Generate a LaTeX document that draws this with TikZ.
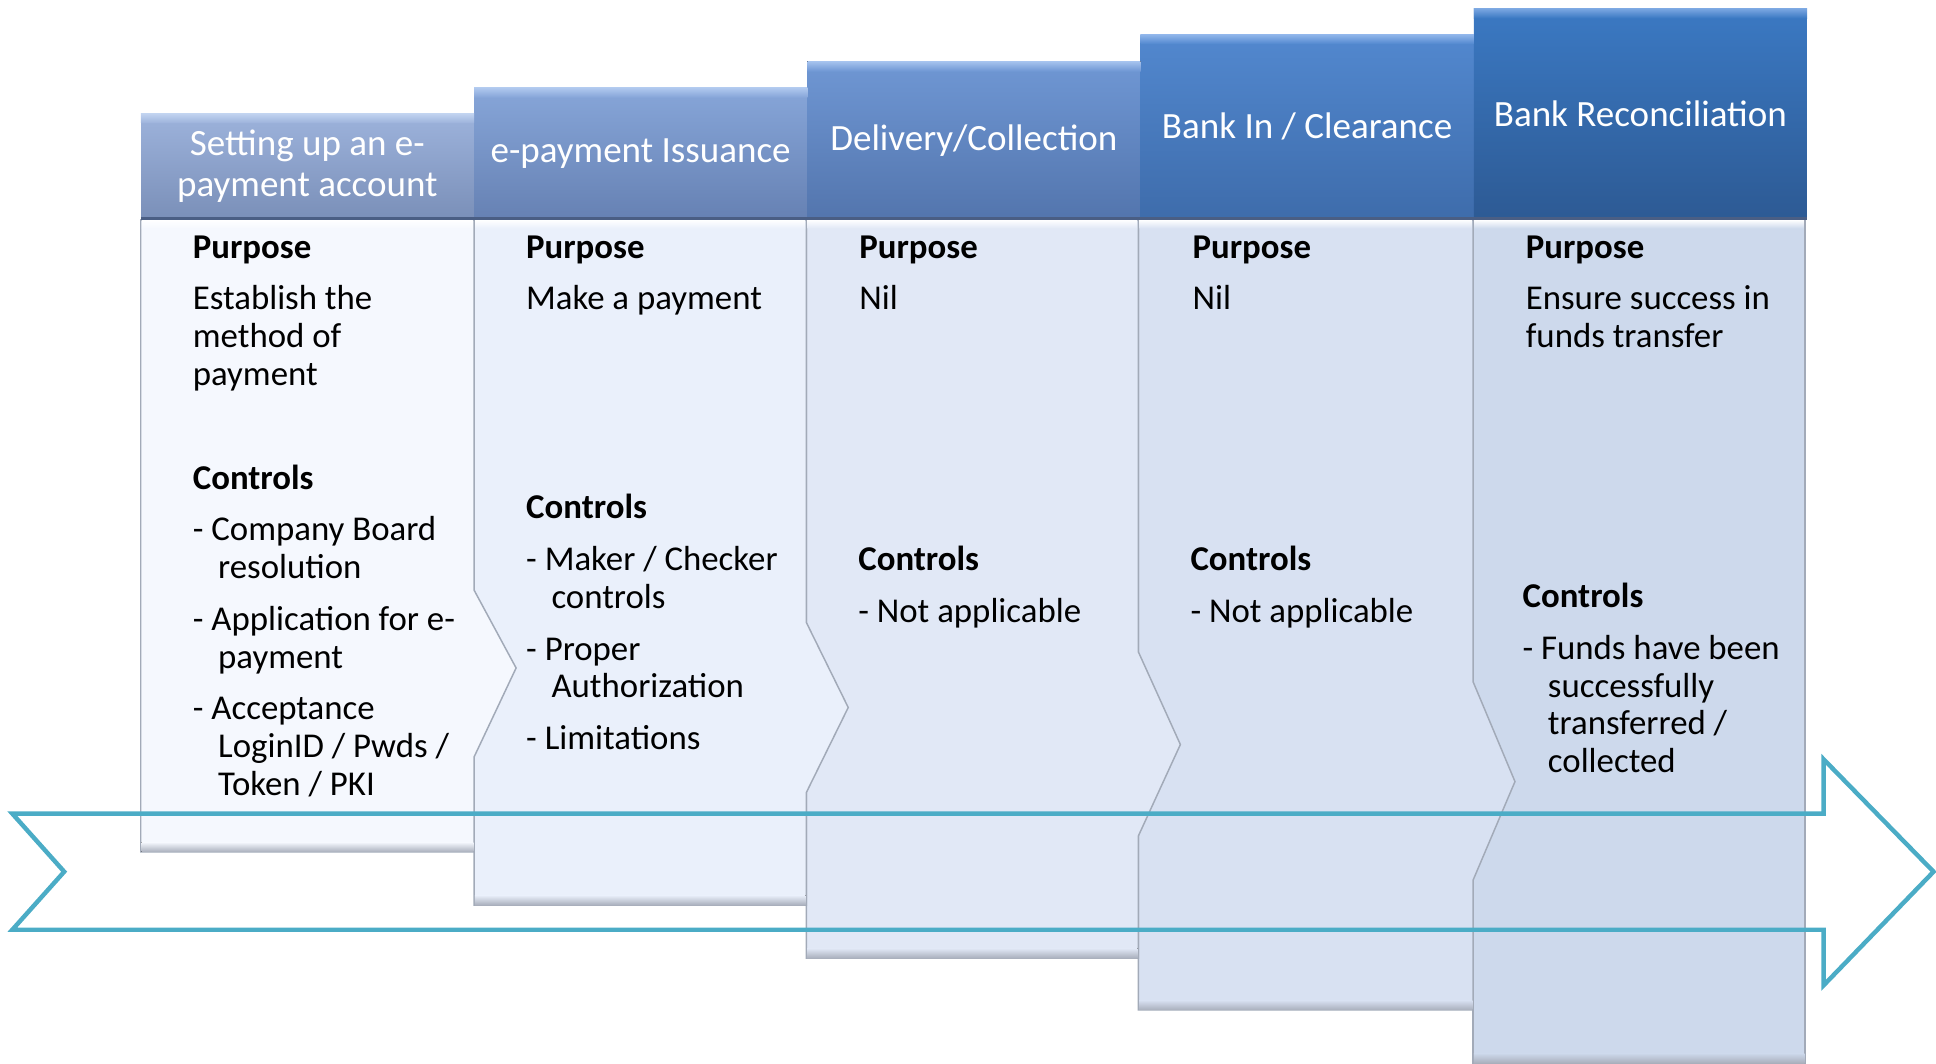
\documentclass[tikz,border=0pt]{standalone}
\usepackage{fontspec}
\setmainfont{Carlito}
\usepackage{xcolor}
\usetikzlibrary{positioning,calc}

\definecolor{flowteal}{HTML}{4BACC6}
\definecolor{bodyA}{HTML}{F5F8FE}
\definecolor{bodyB}{HTML}{EAF0FB}
\definecolor{bodyC}{HTML}{E1E8F6}
\definecolor{bodyD}{HTML}{D8E1F2}
\definecolor{bodyE}{HTML}{CDD9EC}
\definecolor{edgegray}{HTML}{A2AAB8}
\definecolor{bevelgray}{HTML}{A9AFBC}
\definecolor{hdrAtop}{HTML}{9DB3DC}\definecolor{hdrAbot}{HTML}{7A8FB8}\definecolor{hdrAhi}{HTML}{C3D5F1}
\definecolor{hdrBtop}{HTML}{87A6D9}\definecolor{hdrBbot}{HTML}{6681B3}\definecolor{hdrBhi}{HTML}{B3CBF0}
\definecolor{hdrCtop}{HTML}{6F97D4}\definecolor{hdrCbot}{HTML}{5375AD}\definecolor{hdrChi}{HTML}{A6C3EE}
\definecolor{hdrDtop}{HTML}{5288CF}\definecolor{hdrDbot}{HTML}{3E6CAB}\definecolor{hdrDhi}{HTML}{93B8EC}
\definecolor{hdrEtop}{HTML}{3B79C3}\definecolor{hdrEbot}{HTML}{2D5A94}\definecolor{hdrEhi}{HTML}{7EA9E3}
\definecolor{hdrline}{HTML}{4A5E84}

\newcommand{\contline}{\hspace*{20.5pt}}

\tikzset{
  hdr/.style={inner sep=0pt, minimum width=269.5pt, align=center, text=white,
    font=\fontsize{30}{33}\selectfont, anchor=south west},
  bodyshape/.style={draw=edgegray, line width=1.2pt},
  txt/.style={anchor=north west, inner sep=0pt, align=left,
    font=\fontsize{28.2}{30.5}\selectfont},
  flowarrow/.style={draw=flowteal, line width=3.6pt, miter limit=10}
}

\begin{document}
\begin{tikzpicture}[x=1pt, y=-1pt]
    \useasboundingbox (0,0) rectangle (1568,861);

    % Bodies, last one first so each point lies over its neighbour
    \filldraw[bodyshape, fill=bodyE] (1193,178) -- (1462,178) -- (1462,861) -- (1193,861) -- cycle;
    \filldraw[bodyshape, fill=bodyD] (922,178) -- (1193,178) -- (1193,552) -- (1227,633) -- (1193,713) -- (1193,818) -- (922,818) -- cycle;
    \filldraw[bodyshape, fill=bodyC] (653,178) -- (922,178) -- (922,528) -- (956,603) -- (922,677) -- (922,776) -- (653,776) -- cycle;
    \filldraw[bodyshape, fill=bodyB] (384,178) -- (653,178) -- (653,504) -- (687,573) -- (653,642) -- (653,733) -- (384,733) -- cycle;
    \filldraw[bodyshape, fill=bodyA] (114,178) -- (384,178) -- (384,478) -- (418,541) -- (384,613) -- (384,690) -- (114,690) -- cycle;

    % bevels
    \foreach \xa/\xb/\yb/\col in {114/384/690/bodyA, 384/653/733/bodyB, 653/922/776/bodyC, 922/1193/818/bodyD, 1193/1462/861/bodyE}{
        \fill[top color=\col, bottom color=bevelgray] (\xa+0.6,\yb-8) rectangle (\xb-0.6,\yb);
        \fill[top color=white, bottom color=\col] (\xa+1,178) rectangle (\xb-1,185);
    }

    % Headers
    \node[hdr, minimum height=86pt, top color=hdrAtop, bottom color=hdrAbot] (h1) at (114,178) {Setting up an e-\\payment account};
    \node[hdr, minimum height=107pt, top color=hdrBtop, bottom color=hdrBbot] (h2) at (h1.south east) {e-payment Issuance};
    \node[hdr, minimum height=128pt, top color=hdrCtop, bottom color=hdrCbot] (h3) at (h2.south east) {Delivery/Collection};
    \node[hdr, minimum height=150pt, top color=hdrDtop, bottom color=hdrDbot] (h4) at (h3.south east) {Bank In / Clearance};
    \node[hdr, minimum height=171pt, top color=hdrEtop, bottom color=hdrEbot] (h5) at (h4.south east) {Bank Reconciliation};
    \foreach \h/\c in {h1/A, h2/B, h3/C, h4/D, h5/E}{
        \fill[top color=hdr\c hi, bottom color=hdr\c top] (\h.north west) rectangle ($(\h.north east)+(0,8)$);
        \draw[hdrline, line width=2pt] ($(\h.south west)+(0,-1)$) -- ($(\h.south east)+(0,-1)$);
    }

    % Purpose
    \node[txt, below right=9.5pt and 42pt of h1.south west] (p1) {\strut\textbf{Purpose}\\[11.5pt]Establish the\\method of\\payment};
    \node[txt, below right=9.5pt and 42pt of h2.south west] (p2) {\strut\textbf{Purpose}\\[11.5pt]Make a payment};
    \node[txt, below right=9.5pt and 42pt of h3.south west] (p3) {\strut\textbf{Purpose}\\[11.5pt]Nil};
    \node[txt, below right=9.5pt and 42pt of h4.south west] (p4) {\strut\textbf{Purpose}\\[11.5pt]Nil};
    \node[txt, below right=9.5pt and 42pt of h5.south west] (p5) {\strut\textbf{Purpose}\\[11.5pt]Ensure success in\\funds transfer};

    % Controls
    \node[txt] (k1) at (156,374.5) {\strut\textbf{Controls}\\[11.5pt]- Company Board\\\contline resolution\\[11.5pt]- Application for e-\\\contline payment\\[11.5pt]- Acceptance\\\contline LoginID / Pwds /\\\contline Token / PKI};
    \node[txt] (k2) at (426,398.5) {\strut\textbf{Controls}\\[11.5pt]- Maker / Checker\\\contline controls\\[11.5pt]- Proper\\\contline Authorization\\[11.5pt]- Limitations};
    \node[txt] (k3) at (695,440.5) {\strut\textbf{Controls}\\[11.5pt]- Not applicable};
    \node[txt] (k4) at (964,440.5) {\strut\textbf{Controls}\\[11.5pt]- Not applicable};
    \node[txt] (k5) at (1233,470.5) {\strut\textbf{Controls}\\[11.5pt]- Funds have been\\\contline successfully\\\contline transferred /\\\contline collected};

    % Big arrow
    \draw[flowarrow] (10,659) -- (1477,659) -- (1477,615) -- (1566,706) -- (1477,798) -- (1477,753) -- (10,753) -- (52,706) -- cycle;
\end{tikzpicture}
\end{document}
